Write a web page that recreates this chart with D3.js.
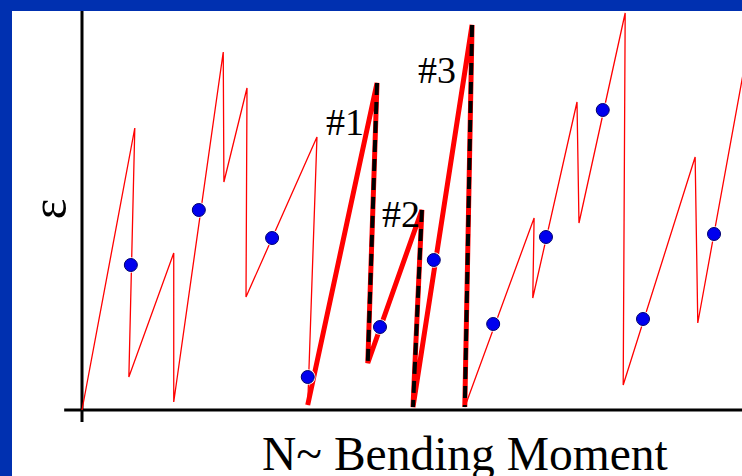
<!doctype html>
<html>
<head>
<script type='text/javascript' src='https://d3js.org/d3.v7.min.js'></script>
<style>
body { margin: 0; background: #fff; }
text { font-family: 'Liberation Serif', 'Times New Roman', serif; fill: #000; }
</style>
</head>
<body>
<script>
var width = 742, height = 476;

// strain path: N (x) vs epsilon (y), in chart units 0..100
var pathX = [0, 8.0, 7.1, 13.9, 13.9, 21.4, 21.5, 25.0, 24.85, 35.6, 34.2, 44.7, 43.3, 51.5, 50.15, 59.1, 58.0, 68.5, 68.3, 75.0, 75.3, 82.3, 82.0, 92.9, 93.3, 100.6];
var pathY = [0, 70.5, 8.25, 39.25, 2, 89.5, 57, 80.5, 28.25, 68.25, 1.25, 81.75, 11.75, 50, 0.75, 96.25, 0.75, 48, 28, 77, 46.75, 99.25, 6.25, 63.25, 21.75, 88];
// the highlighted stretch (#1..#3) runs between these vertex indices
var boldFrom = 10, boldTo = 16;
// vertical drops drawn dashed
var dashedDrops = [[11, 12], [13, 14], [15, 16]];

// measured points
var dotX = [7.4, 17.7, 28.8, 34.2, 45.15, 53.3, 62.3, 70.3, 78.9, 85.0, 95.76];
var dotY = [36.25, 50, 43, 8.25, 20.75, 37.5, 21.5, 43.25, 75, 22.75, 44];

var labels = ['#1', '#2', '#3'];
var labelX = [36.97, 45.45, 50.9];
var labelY = [68.75, 45.75, 81.75];

var xTitle = 'N~ Bending Moment';
var yTitle = '\u03b5';

var svg = d3.select('body').append('svg').attr('width', width).attr('height', height);
svg.append('rect').attr('width', width).attr('height', height).attr('fill', '#fff');

var x = d3.scaleLinear().domain([0, 100]).range([82, 742]);
var y = d3.scaleLinear().domain([0, 100]).range([410, 10]);

var pts = pathX.map(function(d, i) { return [d, pathY[i]]; });
var line = d3.line().x(function(d) { return x(d[0]); }).y(function(d) { return y(d[1]); });

// axes (no ticks)
svg.append('line').attr('x1', x(0)).attr('x2', x(0)).attr('y1', y(100)).attr('y2', y(-3))
  .attr('stroke', '#000').attr('stroke-width', 3);
svg.append('line').attr('x1', x(-2.7)).attr('x2', x(100)).attr('y1', y(0)).attr('y2', y(0))
  .attr('stroke', '#000').attr('stroke-width', 3);

// thin sawtooth
svg.append('path').datum(pts).attr('d', line)
  .attr('fill', 'none').attr('stroke', '#ff0000').attr('stroke-width', 1.3)
  .attr('stroke-linejoin', 'miter');

// bold part
svg.append('path').datum(pts.slice(boldFrom, boldTo + 1)).attr('d', line)
  .attr('fill', 'none').attr('stroke', '#ff0000').attr('stroke-width', 5)
  .attr('stroke-linejoin', 'miter');

// dashed drops
svg.selectAll('.drop').data(dashedDrops).join('path').attr('class', 'drop')
  .attr('d', function(d) { return line([pts[d[0]], pts[d[1]]]); })
  .attr('fill', 'none').attr('stroke', '#000').attr('stroke-width', 4)
  .attr('stroke-dasharray', '12,7');

// dots
var dots = dotX.map(function(d, i) { return [d, dotY[i]]; });
svg.selectAll('.halo').data(dots).join('circle').attr('class', 'halo')
  .attr('cx', function(d) { return x(d[0]); }).attr('cy', function(d) { return y(d[1]); })
  .attr('r', 7.8).attr('fill', '#fff');
svg.selectAll('.dot').data(dots).join('circle').attr('class', 'dot')
  .attr('cx', function(d) { return x(d[0]); }).attr('cy', function(d) { return y(d[1]); })
  .attr('r', 6.5).attr('fill', '#0000ee').attr('stroke', '#00006e').attr('stroke-width', 1);

// annotations
svg.selectAll('.lab').data(labels).join('text').attr('class', 'lab')
  .attr('x', function(d, i) { return x(labelX[i]); })
  .attr('y', function(d, i) { return y(labelY[i]); })
  .attr('font-size', 38)
  .text(function(d) { return d; });

// titles
svg.append('text').attr('x', 262).attr('y', 470).attr('font-size', 47.5).text(xTitle);
svg.append('text').attr('transform', 'translate(66,209) rotate(-90)')
  .attr('text-anchor', 'middle').attr('font-size', 50).text(yTitle);

// blue slide frame
svg.append('rect').attr('x', 0).attr('y', 0).attr('width', width).attr('height', 11).attr('fill', '#0030b0');
svg.append('rect').attr('x', 0).attr('y', 0).attr('width', 12).attr('height', height).attr('fill', '#0030b0');

console.log('ready..');
</script>
</body>
</html>
